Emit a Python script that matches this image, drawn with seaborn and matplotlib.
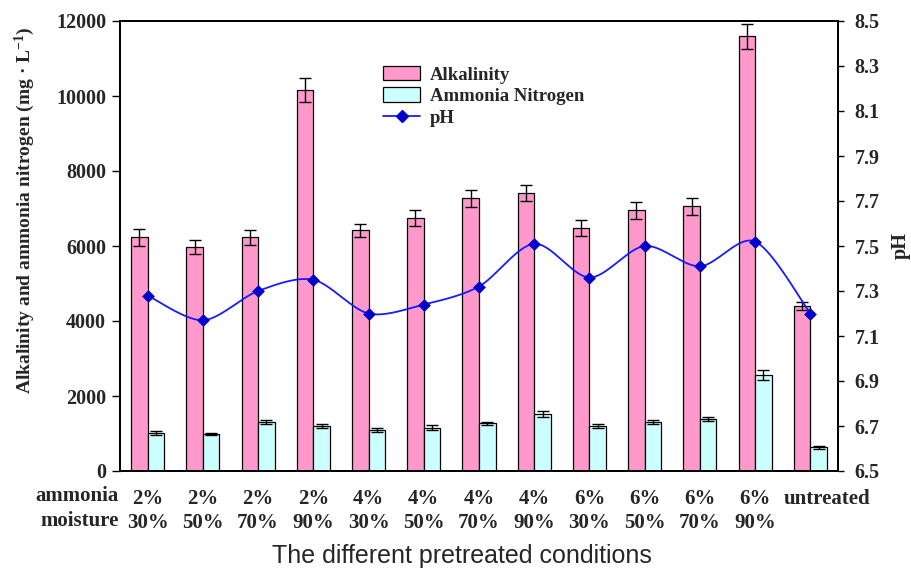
import numpy as np
import pandas as pd
import seaborn as sns
import matplotlib.pyplot as plt
from matplotlib.patches import Patch
from matplotlib.lines import Line2D
from matplotlib.transforms import ScaledTranslation

# values
ammonia = ['2%', '2%', '2%', '2%', '4%', '4%', '4%', '4%', '6%', '6%', '6%', '6%', 'untreated']
moisture = ['30%', '50%', '70%', '90%', '30%', '50%', '70%', '90%', '30%', '50%', '70%', '90%', '']
alkalinity = [6230, 5980, 6230, 10160, 6420, 6740, 7270, 7420, 6490, 6950, 7060, 11590, 4400]
alkalinity_err = [220, 190, 190, 320, 180, 210, 220, 220, 210, 220, 220, 330, 110]
ammonia_n = [1020, 990, 1300, 1200, 1090, 1160, 1270, 1520, 1200, 1300, 1380, 2570, 630]
ammonia_n_err = [60, 30, 50, 60, 50, 60, 50, 70, 50, 50, 50, 130, 30]
ph = [7.28, 7.17, 7.30, 7.35, 7.20, 7.24, 7.32, 7.51, 7.36, 7.50, 7.41, 7.52, 7.20]

labels = [a + '\n' + m for a, m in zip(ammonia, moisture)]

sns.set_theme(style='white')
plt.rcParams['font.family'] = ['Liberation Serif', 'DejaVu Serif']
plt.rcParams['font.weight'] = 'bold'
plt.rcParams['axes.labelweight'] = 'bold'
plt.rcParams['mathtext.fontset'] = 'custom'
plt.rcParams['mathtext.rm'] = 'Liberation Serif:bold'
plt.rcParams['mathtext.it'] = 'Liberation Serif:bold'
plt.rcParams['mathtext.bf'] = 'Liberation Serif:bold'

df = pd.DataFrame({
    'cond': labels * 2,
    'series': ['Alkalinity'] * len(labels) + ['Ammonia Nitrogen'] * len(labels),
    'value': alkalinity + ammonia_n,
})

fig = plt.figure(figsize=(9.12, 5.71), dpi=100)
ax = fig.add_axes([120 / 912, 1 - 471 / 571, 718 / 912, 450 / 571])

sns.barplot(data=df, x='cond', y='value', hue='series', order=labels,
            palette=['#FF99CC', '#CCFFFF'], saturation=1, width=0.6, edgecolor='black',
            linewidth=0.9, errorbar=None, legend=False, ax=ax)

for cont, errs in zip(ax.containers, [alkalinity_err, ammonia_n_err]):
    xs = [p.get_x() + p.get_width() / 2 for p in cont]
    hs = [p.get_height() for p in cont]
    ax.errorbar(xs, hs, yerr=errs, fmt='none', ecolor='black',
                elinewidth=1, capsize=4, capthick=1)

ax.set_ylim(0, 12000)
ax.set_xlim(-0.5, len(labels) - 0.5)
ax.set_yticks(range(0, 12001, 2000))
ax.set_yticklabels([str(v) for v in range(0, 12001, 2000)], fontsize=14.5)
ax.set_xticks(range(len(labels)))
ax.set_xticklabels(labels, fontsize=15, linespacing=1.25, va='top')
ax.set_xticks(np.arange(0.5, len(labels) - 1, 1), minor=True)
ax.tick_params(axis='x', which='major', length=0, pad=13)
ax.tick_params(axis='x', which='minor', direction='in', length=6, width=1, color='black')
ax.tick_params(axis='y', direction='out', length=6, width=1, color='black', pad=4)
# "untreated" sits a little to the right in the original
last = ax.get_xticklabels()[-1]
last.set_transform(last.get_transform() + ScaledTranslation(17 / 100, 0, fig.dpi_scale_trans))
ax.set_xlabel('')
ax.set_ylabel('Alkalinity and ammonia nitrogen (mg · L$^{-1}$)', fontsize=14, fontweight='bold')
ax.yaxis.set_label_coords(-0.115, 0.58)
for s in ax.spines.values():
    s.set_color('black')
    s.set_linewidth(1.3)

# pH on a second axis, drawn as a smoothed line like the original
ax2 = ax.twinx()
x = np.arange(len(ph), dtype=float)
y = np.array(ph)
px = np.concatenate([[x[0]], x, [x[-1]]])
py = np.concatenate([[y[0]], y, [y[-1]]])
cx, cy = [], []
t = np.linspace(0, 1, 20)
for i in range(1, len(px) - 2):
    p0, p1, p2, p3 = [np.array([px[j], py[j]]) for j in range(i - 1, i + 3)]
    m1 = (p2 - p0) / 2 * 0.9
    m2 = (p3 - p1) / 2 * 0.9
    h00 = 2 * t**3 - 3 * t**2 + 1
    h10 = t**3 - 2 * t**2 + t
    h01 = -2 * t**3 + 3 * t**2
    h11 = t**3 - t**2
    seg = np.outer(h00, p1) + np.outer(h10, m1) + np.outer(h01, p2) + np.outer(h11, m2)
    cx.extend(seg[:, 0])
    cy.extend(seg[:, 1])
ax2.plot(cx, cy, color='#1A1AFF', lw=1.3)
sns.scatterplot(x=x, y=y, marker='D', s=36, color='#0000CC', edgecolor='#0000CC', ax=ax2, zorder=5)
ax2.set_ylim(6.5, 8.5)
ticks = np.round(np.arange(6.5, 8.51, 0.2), 1)
ax2.set_yticks(ticks)
ax2.set_yticklabels([f'{v:.1f}' for v in ticks], fontsize=14.5)
ax2.tick_params(axis='y', direction='out', length=4, width=1, color='black', pad=8)
ax2.set_ylabel('pH', fontsize=14.5, fontweight='bold', labelpad=8)
ax2.set_xlim(-0.5, len(labels) - 0.5)
for s in ax2.spines.values():
    s.set_color('black')
    s.set_linewidth(1.3)

handles = [
    Patch(facecolor='#FF99CC', edgecolor='black', linewidth=0.9, label='Alkalinity'),
    Patch(facecolor='#CCFFFF', edgecolor='black', linewidth=0.9, label='Ammonia Nitrogen'),
    Line2D([0], [0], color='#1A1AFF', lw=1.3, marker='D', markersize=6,
           markerfacecolor='#0000CC', markeredgecolor='#0000CC', label='pH'),
]
ax2.legend(handles=handles, loc='upper left', bbox_to_anchor=(0.366, 0.9), frameon=False,
           fontsize=13.5, handlelength=2.0, handleheight=0.8, handletextpad=0.5,
           labelspacing=0.2, borderaxespad=0, borderpad=0)

fig.text(119 / 912, 1 - 496 / 571, 'ammonia', ha='right', va='center', fontsize=15)
fig.text(119 / 912, 1 - 521 / 571, 'moisture', ha='right', va='center', fontsize=15)
fig.text(462 / 912, 1 - 556 / 571, 'The different pretreated conditions', ha='center',
         va='center', fontsize=18, family='Liberation Sans', fontweight='normal')

fig.savefig('out.png', dpi=100)
